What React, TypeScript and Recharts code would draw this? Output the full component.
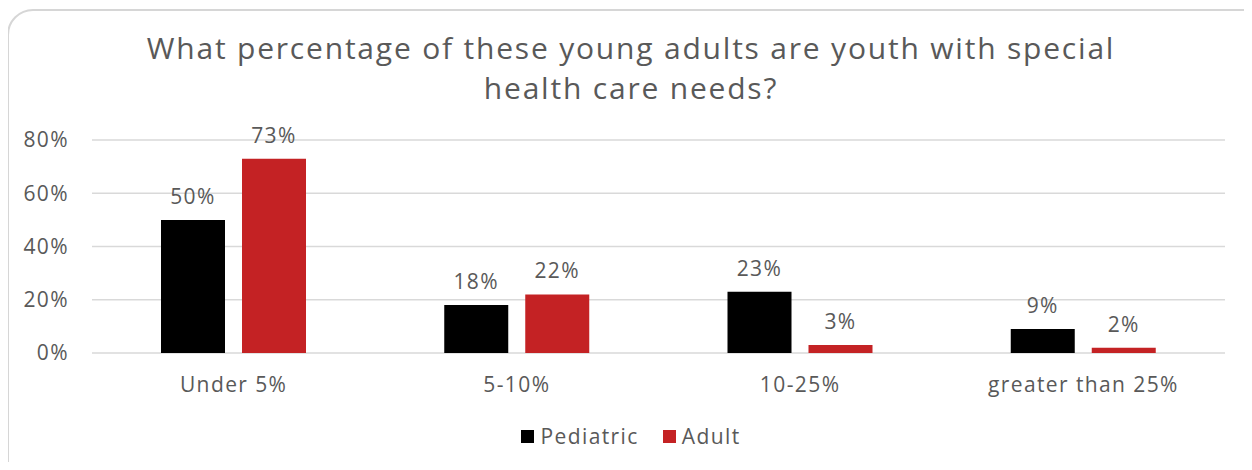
import React from "react";
import { BarChart, Bar, XAxis, YAxis, CartesianGrid, LabelList } from "recharts";

const categories = ["Under 5%", "5-10%", "10-25%", "greater than 25%"];
const pediatric = [50, 18, 23, 9];
const adult = [73, 22, 3, 2];
const yTicks = [0, 20, 40, 60, 80];
const series = [
  { key: "Pediatric", color: "#000000" },
  { key: "Adult", color: "#C42224" },
];

const data = categories.map((name, i) => ({
  name,
  Pediatric: pediatric[i],
  Adult: adult[i],
}));

const FONT = "'Open Sans', sans-serif";
const TEXT = "#595959";
const tickStyle = { fill: TEXT, fontSize: 21, fontFamily: FONT, letterSpacing: 1.4 };

export default function App() {
  return (
    <div
      style={{
        position: "relative",
        width: 1252,
        height: 470,
        margin: -8,
        overflow: "hidden",
        background: "#fff",
        fontFamily: FONT,
      }}
    >
      <div
        style={{
          position: "absolute",
          left: 7,
          top: 9,
          width: 1270,
          height: 490,
          border: "2px solid #d6d6d6",
          borderRadius: 26,
        }}
      />
      <div
        style={{
          position: "absolute",
          left: 0,
          width: 1262,
          top: 28,
          textAlign: "center",
          fontSize: 30,
          lineHeight: "40px",
          letterSpacing: 1.8,
          color: TEXT,
        }}
      >
        What percentage of these young adults are youth with special
        <br />
        health care needs?
      </div>
      <BarChart
        width={1252}
        height={470}
        data={data}
        margin={{ top: 140, right: 27, bottom: 87, left: 0 }}
        barSize={64}
        barGap={17}
        style={{ position: "absolute", left: 0, top: 0 }}
      >
        <CartesianGrid vertical={false} stroke="#d9d9d9" strokeWidth={1.5} />
        <XAxis
          dataKey="name"
          axisLine={false}
          tickLine={false}
          tickSize={0}
          tickMargin={24}
          height={30}
          interval={0}
          tick={tickStyle}
        />
        <YAxis
          width={92}
          domain={[0, 80]}
          ticks={yTicks}
          tickFormatter={(v) => `${v}%`}
          axisLine={false}
          tickLine={false}
          tickSize={0}
          tickMargin={23}
          tick={tickStyle}
        />
        {series.map((s) => (
          <Bar key={s.key} dataKey={s.key} fill={s.color} isAnimationActive={false}>
            <LabelList
              dataKey={s.key}
              position="top"
              offset={16}
              formatter={(v: any) => `${v}%`}
              style={tickStyle}
            />
          </Bar>
        ))}
      </BarChart>
      <div
        style={{
          position: "absolute",
          left: 0,
          width: 1262,
          top: 422,
          display: "flex",
          justifyContent: "center",
          alignItems: "center",
          gap: 24,
          fontSize: 21,
          letterSpacing: 1.4,
          color: TEXT,
        }}
      >
        {series.map((s) => (
          <div key={s.key} style={{ display: "flex", alignItems: "center", gap: 6 }}>
            <span style={{ width: 13, height: 13, background: s.color, display: "inline-block" }} />
            <span>{s.key}</span>
          </div>
        ))}
      </div>
    </div>
  );
}
